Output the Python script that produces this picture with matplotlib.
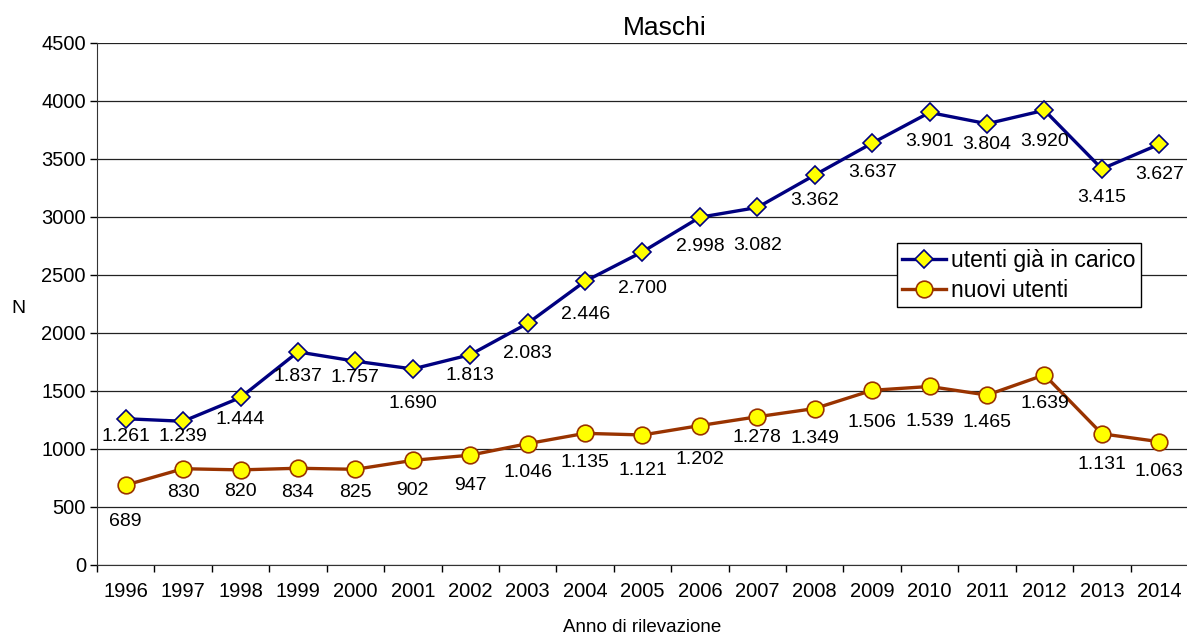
import numpy as np
import matplotlib
matplotlib.use("Agg")
import matplotlib.pyplot as plt
from matplotlib.ticker import MultipleLocator, FixedLocator

plt.rcParams['font.family'] = ['Liberation Sans', 'DejaVu Sans']

years = ['1996', '1997', '1998', '1999', '2000', '2001', '2002', '2003', '2004', '2005',
         '2006', '2007', '2008', '2009', '2010', '2011', '2012', '2013', '2014']
utenti_in_carico = [1261, 1239, 1444, 1837, 1757, 1690, 1813, 2083, 2446, 2700,
                    2998, 3082, 3362, 3637, 3901, 3804, 3920, 3415, 3627]
nuovi_utenti = [689, 830, 820, 834, 825, 902, 947, 1046, 1135, 1121,
                1202, 1278, 1349, 1506, 1539, 1465, 1639, 1131, 1063]

# distanza (pixel) dell'etichetta sotto il punto, come nel grafico originale
off_carico = [18, 15, 22, 25, 16, 35, 21, 30, 33, 37, 29, 38, 25, 29, 29, 21, 31, 29, 30]
off_nuovi = [36, 24, 22, 24, 23, 30, 30, 29, 29, 36, 34, 21, 30, 32, 35, 27, 29, 31, 30]

BLU = '#000080'
MARRONE = '#993300'
GIALLO = '#FFFF00'


def fmt_it(v):
    return f'{v:,}'.replace(',', '.')


fig = plt.figure(figsize=(11.87, 6.37), dpi=100)
ax = fig.add_axes([97 / 1187, 72 / 637, 1091 / 1187, 522 / 637])

x = np.arange(len(years))
ax.plot(x, utenti_in_carico, color=BLU, linewidth=2.4, marker='D', markersize=9,
        markerfacecolor=GIALLO, markeredgecolor=BLU, markeredgewidth=1.2,
        label='utenti già in carico', zorder=4)
ax.plot(x, nuovi_utenti, color=MARRONE, linewidth=2.4, marker='o', markersize=12,
        markerfacecolor=GIALLO, markeredgecolor=MARRONE, markeredgewidth=1.2,
        label='nuovi utenti', zorder=4)

for xi, v, d in zip(x, utenti_in_carico, off_carico):
    ax.annotate(fmt_it(v), (xi, v), xytext=(0, -d), textcoords='offset pixels',
                ha='center', va='center', fontsize=14, zorder=5)
for xi, v, d in zip(x, nuovi_utenti, off_nuovi):
    ax.annotate(fmt_it(v), (xi, v), xytext=(0, -d), textcoords='offset pixels',
                ha='center', va='center', fontsize=14, zorder=5)

ax.set_xlim(-0.5, len(years) - 0.5)
ax.set_ylim(0, 4500)
ax.yaxis.set_major_locator(MultipleLocator(500))
ax.grid(axis='y', color='#222222', linewidth=0.9)
ax.set_axisbelow(True)

# tacche tra le categorie, etichette al centro
ax.xaxis.set_major_locator(FixedLocator(np.arange(-0.5, len(years), 1.0)))
ax.xaxis.set_major_formatter(plt.NullFormatter())
ax.xaxis.set_minor_locator(FixedLocator(x))
ax.set_xticklabels(years, minor=True)
ax.tick_params(axis='x', which='major', length=5, width=1, direction='out')
ax.tick_params(axis='x', which='minor', length=0, pad=12, labelsize=14.5)
ax.tick_params(axis='y', length=5, width=1, pad=3, labelsize=14.5)

for s in ['top', 'right']:
    ax.spines[s].set_visible(False)
ax.spines['left'].set_color('#333333')
ax.spines['bottom'].set_color('#333333')

leg = ax.legend(loc='upper left', bbox_to_anchor=(0.733, 0.617), fontsize=16.5,
                frameon=True, fancybox=False, edgecolor='black', framealpha=1,
                handlelength=1.9, handletextpad=0.2, borderpad=0.25,
                labelspacing=0.3, borderaxespad=0)
leg.get_frame().set_linewidth(1.0)

fig.text(665 / 1187, 1 - 28 / 637, 'Maschi', ha='center', va='center', fontsize=19)
fig.text(18 / 1187, 1 - 308 / 637, 'N', ha='center', va='center', fontsize=14)
fig.text(642 / 1187, 1 - 628 / 637, 'Anno di rilevazione', ha='center', va='center', fontsize=13.5)

fig.savefig('out.png', dpi=100)
